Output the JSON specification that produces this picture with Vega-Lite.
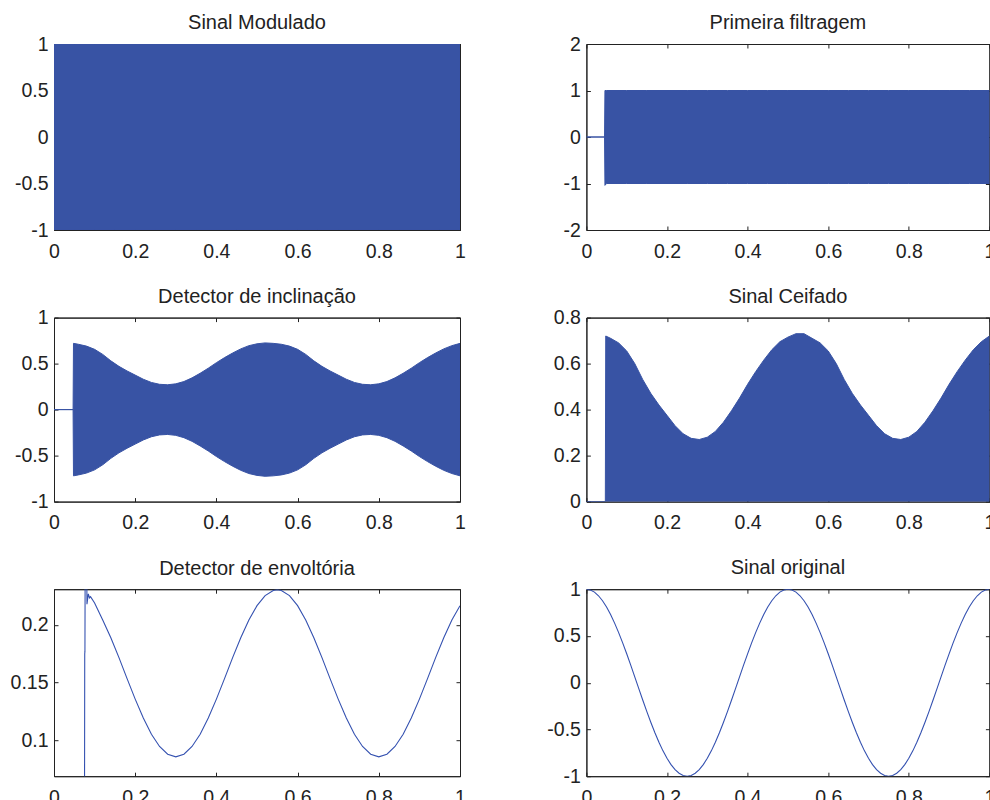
{
  "$schema": "https://vega.github.io/schema/vega-lite/v6.json",
  "background": "white",
  "padding": {"left": 9, "top": 12, "right": 0, "bottom": 0},
  "datasets": {
    "mod": [
      {"t":0,"lo":-1,"hi":1},{"t":0.05,"lo":-1,"hi":1},{"t":0.1,"lo":-1,"hi":1},{"t":0.15,"lo":-1,"hi":1},{"t":0.2,"lo":-1,"hi":1},{"t":0.25,"lo":-1,"hi":1},{"t":0.3,"lo":-1,"hi":1},{"t":0.35,"lo":-1,"hi":1},{"t":0.4,"lo":-1,"hi":1},{"t":0.45,"lo":-1,"hi":1},{"t":0.5,"lo":-1,"hi":1},{"t":0.55,"lo":-1,"hi":1},{"t":0.6,"lo":-1,"hi":1},{"t":0.65,"lo":-1,"hi":1},{"t":0.7,"lo":-1,"hi":1},{"t":0.75,"lo":-1,"hi":1},{"t":0.8,"lo":-1,"hi":1},{"t":0.85,"lo":-1,"hi":1},{"t":0.9,"lo":-1,"hi":1},{"t":0.95,"lo":-1,"hi":1},{"t":1,"lo":-1,"hi":1}
    ],
    "filt": [
      {"t":0,"lo":0,"hi":0},{"t":0.045,"lo":0,"hi":0},{"t":0.046,"lo":-1.04,"hi":1},{"t":0.05,"lo":-1,"hi":1},{"t":0.1,"lo":-1,"hi":1},{"t":0.15,"lo":-1,"hi":1},{"t":0.2,"lo":-1,"hi":1},{"t":0.25,"lo":-1,"hi":1},{"t":0.3,"lo":-1,"hi":1},{"t":0.35,"lo":-1,"hi":1},{"t":0.4,"lo":-1,"hi":1},{"t":0.45,"lo":-1,"hi":1},{"t":0.5,"lo":-1,"hi":1},{"t":0.55,"lo":-1,"hi":1},{"t":0.6,"lo":-1,"hi":1},{"t":0.65,"lo":-1,"hi":1},{"t":0.7,"lo":-1,"hi":1},{"t":0.75,"lo":-1,"hi":1},{"t":0.8,"lo":-1,"hi":1},{"t":0.85,"lo":-1,"hi":1},{"t":0.9,"lo":-1,"hi":1},{"t":0.95,"lo":-1,"hi":1},{"t":1,"lo":-1,"hi":1}
    ],
    "incl": [
      {"t":0,"lo":0,"hi":0},{"t":0.047,"lo":0,"hi":0},{"t":0.048,"lo":-0.72,"hi":0.72},{"t":0.06,"lo":-0.71,"hi":0.71},{"t":0.08,"lo":-0.69,"hi":0.69},{"t":0.1,"lo":-0.655,"hi":0.655},{"t":0.12,"lo":-0.6,"hi":0.6},{"t":0.14,"lo":-0.53,"hi":0.53},{"t":0.16,"lo":-0.47,"hi":0.47},{"t":0.18,"lo":-0.42,"hi":0.42},{"t":0.2,"lo":-0.375,"hi":0.375},{"t":0.22,"lo":-0.33,"hi":0.33},{"t":0.24,"lo":-0.295,"hi":0.295},{"t":0.26,"lo":-0.275,"hi":0.275},{"t":0.28,"lo":-0.27,"hi":0.27},{"t":0.3,"lo":-0.28,"hi":0.28},{"t":0.32,"lo":-0.305,"hi":0.305},{"t":0.34,"lo":-0.345,"hi":0.345},{"t":0.36,"lo":-0.395,"hi":0.395},{"t":0.38,"lo":-0.45,"hi":0.45},{"t":0.4,"lo":-0.51,"hi":0.51},{"t":0.42,"lo":-0.565,"hi":0.565},{"t":0.44,"lo":-0.615,"hi":0.615},{"t":0.46,"lo":-0.66,"hi":0.66},{"t":0.48,"lo":-0.695,"hi":0.695},{"t":0.5,"lo":-0.715,"hi":0.715},{"t":0.52,"lo":-0.725,"hi":0.725},{"t":0.54,"lo":-0.72,"hi":0.72},{"t":0.56,"lo":-0.71,"hi":0.71},{"t":0.58,"lo":-0.69,"hi":0.69},{"t":0.6,"lo":-0.655,"hi":0.655},{"t":0.62,"lo":-0.6,"hi":0.6},{"t":0.64,"lo":-0.53,"hi":0.53},{"t":0.66,"lo":-0.47,"hi":0.47},{"t":0.68,"lo":-0.42,"hi":0.42},{"t":0.7,"lo":-0.375,"hi":0.375},{"t":0.72,"lo":-0.33,"hi":0.33},{"t":0.74,"lo":-0.295,"hi":0.295},{"t":0.76,"lo":-0.275,"hi":0.275},{"t":0.78,"lo":-0.27,"hi":0.27},{"t":0.8,"lo":-0.28,"hi":0.28},{"t":0.82,"lo":-0.305,"hi":0.305},{"t":0.84,"lo":-0.345,"hi":0.345},{"t":0.86,"lo":-0.395,"hi":0.395},{"t":0.88,"lo":-0.45,"hi":0.45},{"t":0.9,"lo":-0.51,"hi":0.51},{"t":0.92,"lo":-0.565,"hi":0.565},{"t":0.94,"lo":-0.615,"hi":0.615},{"t":0.96,"lo":-0.66,"hi":0.66},{"t":0.98,"lo":-0.695,"hi":0.695},{"t":1,"lo":-0.72,"hi":0.72}
    ],
    "ceif": [
      {"t":0,"lo":0,"hi":0},{"t":0.047,"lo":0,"hi":0},{"t":0.048,"lo":0,"hi":0.72},{"t":0.06,"lo":0,"hi":0.71},{"t":0.08,"lo":0,"hi":0.69},{"t":0.1,"lo":0,"hi":0.655},{"t":0.12,"lo":0,"hi":0.6},{"t":0.14,"lo":0,"hi":0.53},{"t":0.16,"lo":0,"hi":0.47},{"t":0.18,"lo":0,"hi":0.42},{"t":0.2,"lo":0,"hi":0.375},{"t":0.22,"lo":0,"hi":0.33},{"t":0.24,"lo":0,"hi":0.295},{"t":0.26,"lo":0,"hi":0.275},{"t":0.28,"lo":0,"hi":0.27},{"t":0.3,"lo":0,"hi":0.28},{"t":0.32,"lo":0,"hi":0.305},{"t":0.34,"lo":0,"hi":0.345},{"t":0.36,"lo":0,"hi":0.395},{"t":0.38,"lo":0,"hi":0.45},{"t":0.4,"lo":0,"hi":0.51},{"t":0.42,"lo":0,"hi":0.565},{"t":0.44,"lo":0,"hi":0.615},{"t":0.46,"lo":0,"hi":0.66},{"t":0.48,"lo":0,"hi":0.695},{"t":0.5,"lo":0,"hi":0.715},{"t":0.52,"lo":0,"hi":0.73},{"t":0.54,"lo":0,"hi":0.73},{"t":0.56,"lo":0,"hi":0.71},{"t":0.58,"lo":0,"hi":0.69},{"t":0.6,"lo":0,"hi":0.655},{"t":0.62,"lo":0,"hi":0.6},{"t":0.64,"lo":0,"hi":0.53},{"t":0.66,"lo":0,"hi":0.47},{"t":0.68,"lo":0,"hi":0.42},{"t":0.7,"lo":0,"hi":0.375},{"t":0.72,"lo":0,"hi":0.33},{"t":0.74,"lo":0,"hi":0.295},{"t":0.76,"lo":0,"hi":0.275},{"t":0.78,"lo":0,"hi":0.27},{"t":0.8,"lo":0,"hi":0.28},{"t":0.82,"lo":0,"hi":0.305},{"t":0.84,"lo":0,"hi":0.345},{"t":0.86,"lo":0,"hi":0.395},{"t":0.88,"lo":0,"hi":0.45},{"t":0.9,"lo":0,"hi":0.51},{"t":0.92,"lo":0,"hi":0.565},{"t":0.94,"lo":0,"hi":0.615},{"t":0.96,"lo":0,"hi":0.66},{"t":0.98,"lo":0,"hi":0.695},{"t":1,"lo":0,"hi":0.72}
    ],
    "env": [
      {"t":0,"v":0},{"t":0.075,"v":0},{"t":0.0757,"v":0.175},{"t":0.0762,"v":0.177},{"t":0.0768,"v":0.26},{"t":0.0805,"v":0.26},{"t":0.0812,"v":0.218},{"t":0.0845,"v":0.227},{"t":0.0875,"v":0.2235},{"t":0.09,"v":0.2245},{"t":0.1,"v":0.219},{"t":0.12,"v":0.2042},{"t":0.14,"v":0.1889},{"t":0.16,"v":0.1716},{"t":0.18,"v":0.1534},{"t":0.2,"v":0.1356},{"t":0.22,"v":0.1192},{"t":0.24,"v":0.1051},{"t":0.26,"v":0.0945},{"t":0.28,"v":0.0878},{"t":0.3,"v":0.0855},{"t":0.32,"v":0.0878},{"t":0.34,"v":0.0945},{"t":0.36,"v":0.1051},{"t":0.38,"v":0.1192},{"t":0.4,"v":0.1356},{"t":0.42,"v":0.1534},{"t":0.44,"v":0.1716},{"t":0.46,"v":0.1889},{"t":0.48,"v":0.2042},{"t":0.5,"v":0.2167},{"t":0.52,"v":0.2254},{"t":0.54,"v":0.2299},{"t":0.55,"v":0.2305},{"t":0.56,"v":0.2299},{"t":0.58,"v":0.2254},{"t":0.6,"v":0.2167},{"t":0.62,"v":0.2042},{"t":0.64,"v":0.1889},{"t":0.66,"v":0.1716},{"t":0.68,"v":0.1534},{"t":0.7,"v":0.1356},{"t":0.72,"v":0.1192},{"t":0.74,"v":0.1051},{"t":0.76,"v":0.0945},{"t":0.78,"v":0.0878},{"t":0.8,"v":0.0855},{"t":0.82,"v":0.0878},{"t":0.84,"v":0.0945},{"t":0.86,"v":0.1051},{"t":0.88,"v":0.1192},{"t":0.9,"v":0.1356},{"t":0.92,"v":0.1534},{"t":0.94,"v":0.1716},{"t":0.96,"v":0.1889},{"t":0.98,"v":0.2042},{"t":1,"v":0.2167}
    ],
    "orig": [
      {"t":0,"v":1},{"t":0.01,"v":0.9921},{"t":0.02,"v":0.9686},{"t":0.03,"v":0.9298},{"t":0.04,"v":0.8763},{"t":0.05,"v":0.809},{"t":0.06,"v":0.729},{"t":0.07,"v":0.6374},{"t":0.08,"v":0.5358},{"t":0.09,"v":0.4258},{"t":0.1,"v":0.309},{"t":0.11,"v":0.1874},{"t":0.12,"v":0.0628},{"t":0.13,"v":-0.0628},{"t":0.14,"v":-0.1874},{"t":0.15,"v":-0.309},{"t":0.16,"v":-0.4258},{"t":0.17,"v":-0.5358},{"t":0.18,"v":-0.6374},{"t":0.19,"v":-0.729},{"t":0.2,"v":-0.809},{"t":0.21,"v":-0.8763},{"t":0.22,"v":-0.9298},{"t":0.23,"v":-0.9686},{"t":0.24,"v":-0.9921},{"t":0.25,"v":-1},{"t":0.26,"v":-0.9921},{"t":0.27,"v":-0.9686},{"t":0.28,"v":-0.9298},{"t":0.29,"v":-0.8763},{"t":0.3,"v":-0.809},{"t":0.31,"v":-0.729},{"t":0.32,"v":-0.6374},{"t":0.33,"v":-0.5358},{"t":0.34,"v":-0.4258},{"t":0.35,"v":-0.309},{"t":0.36,"v":-0.1874},{"t":0.37,"v":-0.0628},{"t":0.38,"v":0.0628},{"t":0.39,"v":0.1874},{"t":0.4,"v":0.309},{"t":0.41,"v":0.4258},{"t":0.42,"v":0.5358},{"t":0.43,"v":0.6374},{"t":0.44,"v":0.729},{"t":0.45,"v":0.809},{"t":0.46,"v":0.8763},{"t":0.47,"v":0.9298},{"t":0.48,"v":0.9686},{"t":0.49,"v":0.9921},{"t":0.5,"v":1},{"t":0.51,"v":0.9921},{"t":0.52,"v":0.9686},{"t":0.53,"v":0.9298},{"t":0.54,"v":0.8763},{"t":0.55,"v":0.809},{"t":0.56,"v":0.729},{"t":0.57,"v":0.6374},{"t":0.58,"v":0.5358},{"t":0.59,"v":0.4258},{"t":0.6,"v":0.309},{"t":0.61,"v":0.1874},{"t":0.62,"v":0.0628},{"t":0.63,"v":-0.0628},{"t":0.64,"v":-0.1874},{"t":0.65,"v":-0.309},{"t":0.66,"v":-0.4258},{"t":0.67,"v":-0.5358},{"t":0.68,"v":-0.6374},{"t":0.69,"v":-0.729},{"t":0.7,"v":-0.809},{"t":0.71,"v":-0.8763},{"t":0.72,"v":-0.9298},{"t":0.73,"v":-0.9686},{"t":0.74,"v":-0.9921},{"t":0.75,"v":-1},{"t":0.76,"v":-0.9921},{"t":0.77,"v":-0.9686},{"t":0.78,"v":-0.9298},{"t":0.79,"v":-0.8763},{"t":0.8,"v":-0.809},{"t":0.81,"v":-0.729},{"t":0.82,"v":-0.6374},{"t":0.83,"v":-0.5358},{"t":0.84,"v":-0.4258},{"t":0.85,"v":-0.309},{"t":0.86,"v":-0.1874},{"t":0.87,"v":-0.0628},{"t":0.88,"v":0.0628},{"t":0.89,"v":0.1874},{"t":0.9,"v":0.309},{"t":0.91,"v":0.4258},{"t":0.92,"v":0.5358},{"t":0.93,"v":0.6374},{"t":0.94,"v":0.729},{"t":0.95,"v":0.809},{"t":0.96,"v":0.8763},{"t":0.97,"v":0.9298},{"t":0.98,"v":0.9686},{"t":0.99,"v":0.9921},{"t":1,"v":1}
    ]
  },
  "columns": 2,
  "spacing": {"row": 87.6, "column": 126.4},
  "bounds": "flush",
  "concat": [
    {
      "title": {"text": "Sinal Modulado", "frame": "group", "offset": 1},
      "width": 406, "height": 186,
      "data": {"name": "mod"},
      "layer": [
        {"mark": {"type": "area", "fill": "#3853a4", "stroke": "#3853a4", "strokeWidth": 1, "clip": true},
         "encoding": {
           "x": {"field": "t", "type": "quantitative", "title": null, "scale": {"domain": [0, 1], "nice": false, "zero": false}, "axis": {"values": [0, 0.2, 0.4, 0.6, 0.8, 1], "format": "~g"}},
           "y": {"field": "lo", "type": "quantitative", "title": null, "scale": {"domain": [-1, 1], "nice": false, "zero": false}, "axis": {"values": [-1, -0.5, 0, 0.5, 1], "format": "~g"}},
           "y2": {"field": "hi"}
         }},
        {"mark": {"type": "line", "opacity": 0, "clip": true},
         "encoding": {
           "x": {"field": "t", "type": "quantitative", "title": null, "scale": {"domain": [0, 1], "nice": false, "zero": false}, "axis": {"orient": "top", "labels": false, "values": [0, 0.2, 0.4, 0.6, 0.8, 1]}},
           "y": {"field": "lo", "type": "quantitative", "title": null, "scale": {"domain": [-1, 1], "nice": false, "zero": false}, "axis": {"orient": "right", "labels": false, "values": [-1, -0.5, 0, 0.5, 1]}}
         }}
      ],
      "resolve": {"axis": {"x": "independent", "y": "independent"}}
    },
    {
      "title": {"text": "Primeira filtragem", "frame": "group", "offset": 1},
      "width": 403, "height": 186,
      "data": {"name": "filt"},
      "layer": [
        {"mark": {"type": "area", "fill": "#3853a4", "stroke": "#3853a4", "strokeWidth": 1, "clip": true},
         "encoding": {
           "x": {"field": "t", "type": "quantitative", "title": null, "scale": {"domain": [0, 1], "nice": false, "zero": false}, "axis": {"values": [0, 0.2, 0.4, 0.6, 0.8, 1], "format": "~g"}},
           "y": {"field": "lo", "type": "quantitative", "title": null, "scale": {"domain": [-2, 2], "nice": false, "zero": false}, "axis": {"values": [-2, -1, 0, 1, 2], "format": "~g"}},
           "y2": {"field": "hi"}
         }},
        {"mark": {"type": "line", "opacity": 0, "clip": true},
         "encoding": {
           "x": {"field": "t", "type": "quantitative", "title": null, "scale": {"domain": [0, 1], "nice": false, "zero": false}, "axis": {"orient": "top", "labels": false, "values": [0, 0.2, 0.4, 0.6, 0.8, 1]}},
           "y": {"field": "lo", "type": "quantitative", "title": null, "scale": {"domain": [-2, 2], "nice": false, "zero": false}, "axis": {"orient": "right", "labels": false, "values": [-2, -1, 0, 1, 2]}}
         }}
      ],
      "resolve": {"axis": {"x": "independent", "y": "independent"}}
    },
    {
      "title": {"text": "Detector de inclinação", "frame": "group", "offset": 1},
      "width": 406, "height": 184,
      "data": {"name": "incl"},
      "layer": [
        {"mark": {"type": "area", "fill": "#3853a4", "stroke": "#3853a4", "strokeWidth": 1, "clip": true},
         "encoding": {
           "x": {"field": "t", "type": "quantitative", "title": null, "scale": {"domain": [0, 1], "nice": false, "zero": false}, "axis": {"values": [0, 0.2, 0.4, 0.6, 0.8, 1], "format": "~g"}},
           "y": {"field": "lo", "type": "quantitative", "title": null, "scale": {"domain": [-1, 1], "nice": false, "zero": false}, "axis": {"values": [-1, -0.5, 0, 0.5, 1], "format": "~g"}},
           "y2": {"field": "hi"}
         }},
        {"mark": {"type": "line", "opacity": 0, "clip": true},
         "encoding": {
           "x": {"field": "t", "type": "quantitative", "title": null, "scale": {"domain": [0, 1], "nice": false, "zero": false}, "axis": {"orient": "top", "labels": false, "values": [0, 0.2, 0.4, 0.6, 0.8, 1]}},
           "y": {"field": "lo", "type": "quantitative", "title": null, "scale": {"domain": [-1, 1], "nice": false, "zero": false}, "axis": {"orient": "right", "labels": false, "values": [-1, -0.5, 0, 0.5, 1]}}
         }}
      ],
      "resolve": {"axis": {"x": "independent", "y": "independent"}}
    },
    {
      "title": {"text": "Sinal Ceifado", "frame": "group", "offset": 1},
      "width": 403, "height": 184,
      "data": {"name": "ceif"},
      "layer": [
        {"mark": {"type": "area", "fill": "#3853a4", "stroke": "#3853a4", "strokeWidth": 1, "clip": true},
         "encoding": {
           "x": {"field": "t", "type": "quantitative", "title": null, "scale": {"domain": [0, 1], "nice": false, "zero": false}, "axis": {"values": [0, 0.2, 0.4, 0.6, 0.8, 1], "format": "~g"}},
           "y": {"field": "lo", "type": "quantitative", "title": null, "scale": {"domain": [0, 0.8], "nice": false, "zero": false}, "axis": {"values": [0, 0.2, 0.4, 0.6, 0.8], "format": "~g"}},
           "y2": {"field": "hi"}
         }},
        {"mark": {"type": "line", "opacity": 0, "clip": true},
         "encoding": {
           "x": {"field": "t", "type": "quantitative", "title": null, "scale": {"domain": [0, 1], "nice": false, "zero": false}, "axis": {"orient": "top", "labels": false, "values": [0, 0.2, 0.4, 0.6, 0.8, 1]}},
           "y": {"field": "lo", "type": "quantitative", "title": null, "scale": {"domain": [0, 0.8], "nice": false, "zero": false}, "axis": {"orient": "right", "labels": false, "values": [0, 0.2, 0.4, 0.6, 0.8]}}
         }}
      ],
      "resolve": {"axis": {"x": "independent", "y": "independent"}}
    },
    {
      "title": {"text": "Detector de envoltória", "frame": "group", "offset": 9.5},
      "width": 406, "height": 187,
      "data": {"name": "env"},
      "layer": [
        {"mark": {"type": "line", "color": "#3451b0", "strokeWidth": 1.1, "clip": true},
         "encoding": {
           "x": {"field": "t", "type": "quantitative", "title": null, "scale": {"domain": [0, 1], "nice": false, "zero": false}, "axis": {"values": [0, 0.2, 0.4, 0.6, 0.8, 1], "format": "~g"}},
           "y": {"field": "v", "type": "quantitative", "title": null, "scale": {"domain": [0.0687, 0.231], "nice": false, "zero": false}, "axis": {"values": [0.1, 0.15, 0.2], "format": "~g"}}
         }},
        {"mark": {"type": "line", "opacity": 0, "clip": true},
         "encoding": {
           "x": {"field": "t", "type": "quantitative", "title": null, "scale": {"domain": [0, 1], "nice": false, "zero": false}, "axis": {"orient": "top", "labels": false, "values": [0, 0.2, 0.4, 0.6, 0.8, 1]}},
           "y": {"field": "v", "type": "quantitative", "title": null, "scale": {"domain": [0.0687, 0.231], "nice": false, "zero": false}, "axis": {"orient": "right", "labels": false, "values": [0.1, 0.15, 0.2]}}
         }}
      ],
      "resolve": {"axis": {"x": "independent", "y": "independent"}}
    },
    {
      "title": {"text": "Sinal original", "frame": "group", "offset": 1},
      "width": 403, "height": 187,
      "data": {"name": "orig"},
      "layer": [
        {"mark": {"type": "line", "color": "#3451b0", "strokeWidth": 1.1, "clip": true},
         "encoding": {
           "x": {"field": "t", "type": "quantitative", "title": null, "scale": {"domain": [0, 1], "nice": false, "zero": false}, "axis": {"values": [0, 0.2, 0.4, 0.6, 0.8, 1], "format": "~g"}},
           "y": {"field": "v", "type": "quantitative", "title": null, "scale": {"domain": [-1, 1], "nice": false, "zero": false}, "axis": {"values": [-1, -0.5, 0, 0.5, 1], "format": "~g"}}
         }},
        {"mark": {"type": "line", "opacity": 0, "clip": true},
         "encoding": {
           "x": {"field": "t", "type": "quantitative", "title": null, "scale": {"domain": [0, 1], "nice": false, "zero": false}, "axis": {"orient": "top", "labels": false, "values": [0, 0.2, 0.4, 0.6, 0.8, 1]}},
           "y": {"field": "v", "type": "quantitative", "title": null, "scale": {"domain": [-1, 1], "nice": false, "zero": false}, "axis": {"orient": "right", "labels": false, "values": [-1, -0.5, 0, 0.5, 1]}}
         }}
      ],
      "resolve": {"axis": {"x": "independent", "y": "independent"}}
    }
  ],
  "config": {
    "font": "Liberation Sans",
    "view": {"stroke": "#222222", "strokeWidth": 1},
    "axis": {"domain": true, "domainColor": "#222222", "domainWidth": 1, "grid": false, "ticks": true, "tickSize": -4, "tickColor": "#222222", "tickWidth": 1, "labelFont": "Liberation Sans", "labelFontSize": 19.5, "labelColor": "#222222", "labelPadding": 10, "labelFlush": false, "labelOverlap": false, "zindex": 1},
    "axisX": {"labelPadding": 16},
    "title": {"font": "Liberation Sans", "fontSize": 20, "fontWeight": "normal", "color": "#222222", "baseline": "alphabetic", "anchor": "middle"},
    "locale": {"number": {"decimal": ".", "thousands": ",", "grouping": [3], "currency": ["$", ""], "minus": "-"}}
  }
}
